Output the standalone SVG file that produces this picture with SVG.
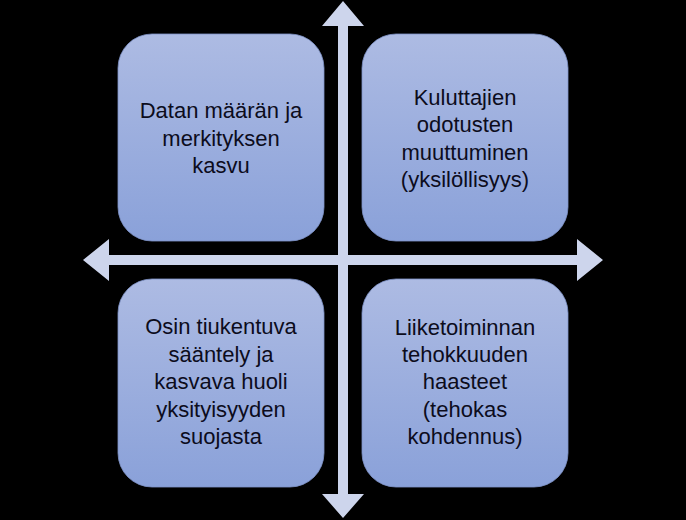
<svg xmlns="http://www.w3.org/2000/svg" width="686" height="520" viewBox="0 0 686 520">
<defs>
<linearGradient id="g" x1="0" y1="0" x2="0" y2="1">
<stop offset="0" stop-color="#adbbe3"/>
<stop offset="1" stop-color="#8aa1d9"/>
</linearGradient>
<style>
.box{fill:url(#g);stroke:#7f93c8;stroke-width:0.8}
.ax{fill:#cdd5ec}
text{font-family:"Liberation Sans",Arial,sans-serif;font-size:22px;fill:#0c0c1c;text-anchor:middle}
</style>
</defs>
<rect width="686" height="520" fill="#000"/>
<g id="n1"><rect class="box" x="118" y="34" width="206" height="207" rx="34"/>
<text x="221" y="118">Datan määrän ja</text><text x="221" y="145.5">merkityksen</text><text x="221" y="173">kasvu</text></g>
<g id="n2"><rect class="box" x="362" y="34" width="206" height="207" rx="34"/>
<text x="465" y="105">Kuluttajien</text><text x="465" y="132">odotusten</text><text x="465" y="159.5">muuttuminen</text><text x="465" y="187">(yksilöllisyys)</text></g>
<g id="n3"><rect class="box" x="118" y="279" width="206" height="208" rx="34"/>
<text x="221" y="334">Osin tiukentuva</text><text x="221" y="361.5">sääntely ja</text><text x="221" y="389">kasvava huoli</text><text x="221" y="416.5">yksityisyyden</text><text x="221" y="443.5">suojasta</text></g>
<g id="n4"><rect class="box" x="362" y="279" width="206" height="208" rx="34"/>
<text x="465" y="335">Liiketoiminnan</text><text x="465" y="362">tehokkuuden</text><text x="465" y="389">haasteet</text><text x="465" y="416.5">(tehokas</text><text x="465" y="443.5">kohdennus)</text></g>
<g id="connectors">
<polygon class="ax" points="343,1 364,26 348,26 348,494 364,494 343,518 322,494 338,494 338,26 322,26"/>
<polygon class="ax" points="83,260 109,239 109,255 577,255 577,239 603,260 577,281 577,265 109,265 109,281"/>
</g>
</svg>
